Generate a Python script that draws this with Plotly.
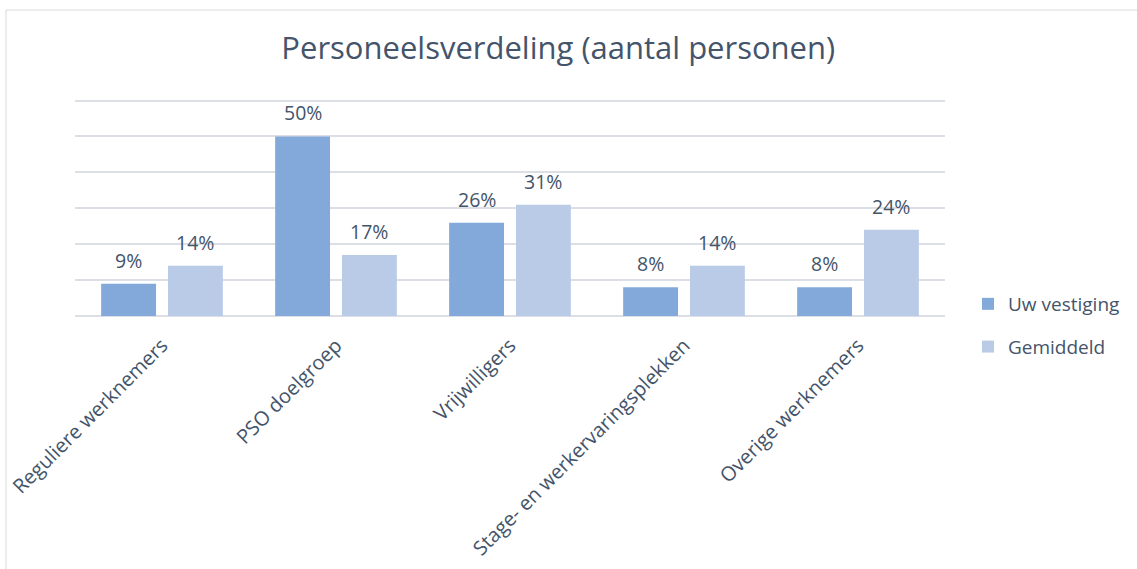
import plotly.graph_objects as go

categories = ["Reguliere werknemers", "PSO doelgroep", "Vrijwilligers",
              "Stage- en werkervaringsplekken", "Overige werknemers"]
uw_vestiging = [9, 50, 26, 8, 8]
gemiddeld = [14, 17, 31, 14, 24]
series_names = ["Uw vestiging", "Gemiddeld"]
grid_values = [0, 10, 20, 30, 40, 50, 60]
title_text = "Personeelsverdeling (aantal personen)"

TXT = "#44546A"
FONT = "Open Sans"
W, H = 1137, 569
L, R, T, B = 75, 192, 97, 253
pw = W - L - R
ph = H - T - B
YMAX = 61
BARGAP, GROUPGAP = 0.232, 0.179
cat_w = pw / len(categories)
offset = (1 - BARGAP) * cat_w / 4  # center offset of each bar in group

fig = go.Figure()
series = [(series_names[0], uw_vestiging, "#83A9DA", -offset),
          (series_names[1], gemiddeld, "#B9CBE7", offset)]
for name, vals, col, dx in series:
    fig.add_trace(go.Bar(
        x=categories, y=vals, name=name, legendgroup=name,
        marker=dict(color=col, line=dict(width=0)),
        hoverinfo="x+y",
    ))
    for c, v in zip(categories, vals):
        fig.add_annotation(x=c, y=v, text=f"{v}%", showarrow=False,
                           xshift=dx, yshift=8, yanchor="bottom",
                           font=dict(size=19.5, color=TXT, family=FONT))

fig.add_shape(type="rect", xref="paper", yref="paper",
              x0=(6 - L) / pw, x1=(W + 20 - L) / pw,
              y0=-(B + 20) / ph, y1=(H - B - 10) / ph,
              line=dict(color="#D9D9D9", width=1), layer="below")

fig.update_layout(
    width=W, height=H,
    margin=dict(l=L, r=R, t=T, b=B, autoexpand=False),
    paper_bgcolor="white", plot_bgcolor="white",
    font=dict(family=FONT, color=TXT),
    title=dict(text=title_text, x=0.491, xanchor="center",
               y=1 - 48 / H, yanchor="middle", yref="container",
               font=dict(size=31, color=TXT, family=FONT)),
    barmode="group", bargap=BARGAP, bargroupgap=GROUPGAP,
    showlegend=True,
    legend=dict(x=(968 - L) / pw, xanchor="left", y=(H - B - 285) / ph, yanchor="top",
                font=dict(size=19, color=TXT, family=FONT),
                traceorder="grouped", tracegroupgap=15,
                bgcolor="rgba(0,0,0,0)"),
    xaxis=dict(tickangle=-45, tickfont=dict(size=20, color=TXT, family=FONT),
               showline=False, ticks="", showgrid=False, ticklabelstandoff=13,
               automargin=False),
    yaxis=dict(range=[0, YMAX], tickvals=grid_values,
               showticklabels=False, automargin=False,
               showgrid=True, gridcolor="#DCDFE5", gridwidth=1.5,
               zeroline=True, zerolinecolor="#DCDFE5", zerolinewidth=1.5,
               showline=False, ticks=""),
)
fig.write_html("out.html")
